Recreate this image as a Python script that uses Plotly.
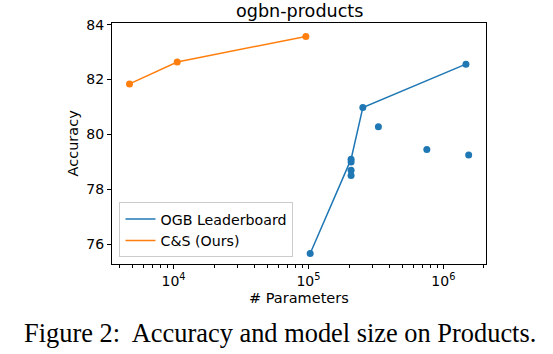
import plotly.graph_objects as go
import numpy as np

# Data
cs_params = [4720, 10650, 95700]
cs_acc = [81.84, 82.64, 83.57]
ogb_params = [1.03e5, 2.07e5, 2.07e5, 2.07e5, 2.07e5, 2.53e5, 3.3e5, 7.54e5, 1.47e6, 1.54e6]
ogb_acc = [75.66, 79.10, 79.00, 78.70, 78.50, 80.98, 80.28, 79.45, 82.56, 79.25]
x_tickvals = [1e4, 1e5, 1e6]
x_ticktext = ["10<sup>4</sup>", "10<sup>5</sup>", "10<sup>6</sup>"]
y_tickvals = [76, 78, 80, 82, 84]

BLUE = "#1f77b4"
ORANGE = "#ff7f0e"

# Pareto front of OGB leaderboard
order = sorted(range(len(ogb_params)), key=lambda i: (ogb_params[i], -ogb_acc[i]))
front_x, front_y, best = [], [], -1e9
for i in order:
    if ogb_acc[i] > best:
        best = ogb_acc[i]
        front_x.append(ogb_params[i])
        front_y.append(ogb_acc[i])

fig = go.Figure()
fig.add_trace(go.Scatter(x=front_x, y=front_y, mode="lines", name="OGB Leaderboard",
                         line=dict(color=BLUE, width=1.5)))
fig.add_trace(go.Scatter(x=cs_params, y=cs_acc, mode="lines", name="C&S (Ours)",
                         line=dict(color=ORANGE, width=1.5)))
fig.add_trace(go.Scatter(x=ogb_params, y=ogb_acc, mode="markers", showlegend=False,
                         marker=dict(color=BLUE, size=7)))
fig.add_trace(go.Scatter(x=cs_params, y=cs_acc, mode="markers", showlegend=False,
                         marker=dict(color=ORANGE, size=7)))

minor_vals = [m * 10 ** k for k in range(3, 7) for m in range(2, 10)]

font = "DejaVu Sans"
fig.update_layout(
    width=553, height=354,
    margin=dict(l=112, r=67, t=23, b=90),
    plot_bgcolor="white", paper_bgcolor="white",
    font=dict(family=font, size=14, color="black"),
    showlegend=True,
    legend=dict(x=0.02, y=0.028, xanchor="left", yanchor="bottom",
                bordercolor="#cccccc", borderwidth=1, bgcolor="rgba(255,255,255,0.8)",
                font=dict(size=14.2), itemwidth=30, tracegroupgap=0),
    xaxis=dict(type="log", range=[3.544, 6.316], showgrid=False, zeroline=False,
               showline=True, linecolor="black", linewidth=1, mirror=True,
               ticks="outside", ticklen=4, tickcolor="black",
               tickmode="array", tickvals=x_tickvals, ticktext=x_ticktext,
               tickfont=dict(size=14),
               minor=dict(ticks="outside", ticklen=2.5, tickcolor="black",
                          tickmode="array", tickvals=minor_vals, showgrid=False)),
    yaxis=dict(range=[75.28, 84.06], showgrid=False, zeroline=False,
               showline=True, linecolor="black", linewidth=1, mirror=True,
               ticks="outside", ticklen=4, tickcolor="black",
               tickmode="array", tickvals=y_tickvals, tickfont=dict(size=14)),
    annotations=[
        dict(text="ogbn-products", x=0.5, y=11, xref="paper", yref="paper",
             showarrow=False, font=dict(size=17.6)),
        dict(text="# Parameters", x=0.5, y=0, xref="paper", yref="paper",
             showarrow=False, font=dict(size=14.5)),
        dict(text="Accuracy", x=0, y=0.5, xref="paper", yref="paper", textangle=-90,
             showarrow=False, font=dict(size=14.5)),
        dict(text="Figure 2:  Accuracy and model size on Products.", x=0, y=0,
             xref="paper", yref="paper", showarrow=False,
             font=dict(family="Liberation Serif", size=26.4)),
    ],
)

# position annotations in pixel terms
W, H = 374.3, 241.3
L, T = 111.7, 22.7
def px(xp): return (xp - L) / W
def py(yp): return (T + H - yp) / H
anns = list(fig.layout.annotations)
anns[0].update(x=px(299), y=py(11), yanchor="middle", xanchor="center")
anns[1].update(x=px(299), y=py(298), yanchor="middle", xanchor="center")
anns[2].update(x=px(73), y=py(143), yanchor="middle", xanchor="center")
anns[3].update(x=px(279.5), y=py(333), yanchor="middle", xanchor="center")
fig.update_layout(annotations=anns)

fig.write_html("out.html")
